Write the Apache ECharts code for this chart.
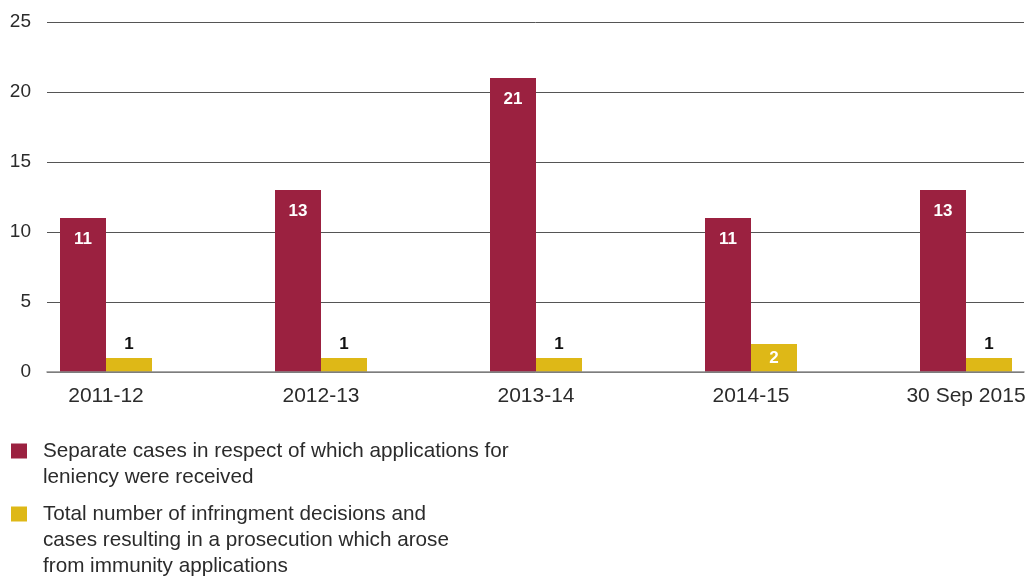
<!DOCTYPE html>
<html>
<head>
<meta charset="utf-8">
<script src="https://cdn.jsdelivr.net/npm/echarts@6/dist/echarts.min.js"></script>
<style>
  html, body { margin: 0; padding: 0; background: #fff; }
  #chart { width: 1026px; height: 579px; }
</style>
</head>
<body>
<div id="chart"></div>
<script>
// Leniency applications and resulting decisions by year
const categories = ['2011-12', '2012-13', '2013-14', '2014-15', '30 Sep 2015'];
const leniencyCases = [11, 13, 21, 11, 13];
const infringementDecisions = [1, 1, 1, 2, 1];
const yTicks = { min: 0, max: 25, interval: 5 };

const seriesNames = [
  'Separate cases in respect of which applications for\nleniency were received',
  'Total number of infringment decisions and\ncases resulting in a prosecution which arose\nfrom immunity applications'
];

const RED = '#9B2140';
const YELLOW = '#DEB817';
const FONT = '"Liberation Sans", Arial, sans-serif';
const TEXT = '#2b2b2b';

// Small bars keep their value above the bar in dark text; taller ones show it inside in white.
const yellowData = infringementDecisions.map(v => ({
  value: v,
  label: v >= 2
    ? { position: 'inside', color: '#fff' }
    : { position: 'top', distance: 5, color: '#111' }
}));

// Legend text is centred on its swatch; leading blank lines put the first line level with it.
function topAligned(name) {
  const lines = name.split('\n').length;
  return '\n'.repeat(lines - 1) + name;
}

const legendBase = {
  left: 11, padding: 0, orient: 'vertical',
  icon: 'rect', itemWidth: 16, itemHeight: 15, itemGap: 0,
  formatter: topAligned,
  selectedMode: false,
  textStyle: {
    fontSize: 20.7, lineHeight: 26, color: TEXT, fontFamily: FONT,
    padding: [0, 0, 0, 11], backgroundColor: 'rgba(255,255,255,0)'
  }
};

const chart = echarts.init(document.getElementById('chart'), null, { renderer: 'canvas' });

chart.setOption({
  animation: false,
  backgroundColor: '#fff',
  textStyle: { fontFamily: FONT },
  grid: [
    // value grid with the horizontal rules
    { left: 47, right: 2, top: 22, bottom: 207, containLabel: false, outerBoundsMode: 'none' },
    // category grid holding the bars
    { left: -1.5, width: 1075, top: 22, bottom: 207, containLabel: false, outerBoundsMode: 'none' }
  ],
  xAxis: [
    {
      gridIndex: 0, type: 'value', min: 0, max: 1, z: 5,
      axisLine: { show: true, lineStyle: { color: '#8a8a8a', width: 1.5 } },
      axisTick: { show: false }, axisLabel: { show: false }, splitLine: { show: false }
    },
    {
      gridIndex: 1, type: 'category', data: categories,
      axisLine: { show: false }, axisTick: { show: false },
      axisLabel: { interval: 0, margin: 14, fontSize: 21, color: TEXT, fontFamily: FONT }
    }
  ],
  yAxis: [
    {
      gridIndex: 0, type: 'value', min: yTicks.min, max: yTicks.max, interval: yTicks.interval,
      axisLine: { show: false }, axisTick: { show: false },
      axisLabel: { margin: 16, fontSize: 19, color: TEXT, fontFamily: FONT },
      splitLine: { show: true, lineStyle: { color: '#555', width: 1 } }
    },
    {
      gridIndex: 1, type: 'value', min: yTicks.min, max: yTicks.max, interval: yTicks.interval,
      axisLine: { show: false }, axisTick: { show: false },
      axisLabel: { show: false }, splitLine: { show: false }
    }
  ],
  legend: [
    Object.assign({}, legendBase, { data: [seriesNames[0]], top: 412 }),
    Object.assign({}, legendBase, { data: [seriesNames[1]], top: 449 })
  ],
  series: [
    {
      name: seriesNames[0], type: 'bar', xAxisIndex: 1, yAxisIndex: 1,
      data: leniencyCases, barWidth: 46, barGap: '0%',
      itemStyle: { color: RED },
      label: {
        show: true, position: 'insideTop', distance: 13,
        color: '#fff', fontSize: 17, fontWeight: 'bold', fontFamily: FONT
      }
    },
    {
      name: seriesNames[1], type: 'bar', xAxisIndex: 1, yAxisIndex: 1,
      data: yellowData, barWidth: 46, barGap: '0%',
      itemStyle: { color: YELLOW },
      label: { show: true, fontSize: 17, fontWeight: 'bold', fontFamily: FONT }
    }
  ]
});
</script>
</body>
</html>
